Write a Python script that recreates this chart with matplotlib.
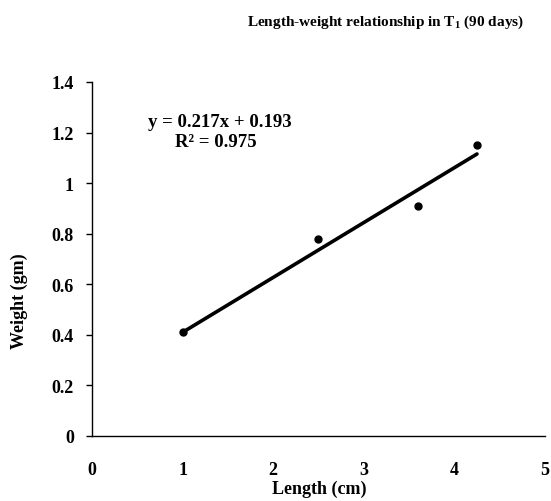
import numpy as np
import matplotlib.pyplot as plt

plt.rcParams["font.family"] = "Liberation Serif"
plt.rcParams["font.weight"] = "bold"
plt.rcParams["mathtext.fontset"] = "custom"
plt.rcParams["mathtext.rm"] = "Liberation Serif:bold"
plt.rcParams["mathtext.default"] = "rm"

# length (cm) and weight (gm) samples
length = [1.0, 2.5, 3.6, 4.25]
weight = [0.41, 0.78, 0.91, 1.15]

# linear trend from the fitted equation
slope = 0.217
intercept = 0.193
r2 = 0.975

xticks = [0, 1, 2, 3, 4, 5]
yticks = [0, 0.2, 0.4, 0.6, 0.8, 1.0, 1.2, 1.4]
ytick_labels = ["0", "0.2", "0.4", "0.6", "0.8", "1", "1.2", "1.4"]

fig = plt.figure(figsize=(5.51, 5.02), dpi=100)
ax = fig.add_axes([0.167, 0.1295, 0.822, 0.7052])

xfit = np.array([min(length), max(length)])
ax.plot(xfit, slope * xfit + intercept, color="black", lw=2.6, solid_capstyle="round")
ax.plot(length, weight, "o", color="black", ms=5)

ax.set_xlim(0, 5)
ax.set_ylim(0, 1.4)
ax.set_xticks(xticks)
ax.set_yticks(yticks)
ax.set_yticklabels(ytick_labels)
ax.tick_params(axis="x", length=0, pad=18, labelsize=13)
ax.tick_params(axis="y", length=4, width=1, pad=9, labelsize=13)

for side in ("top", "right"):
    ax.spines[side].set_visible(False)
for side in ("left", "bottom"):
    ax.spines[side].set_linewidth(1.0)

ax.text(1.41, 1.245, f"y = {slope}x + {intercept}", ha="center", va="center", fontsize=13.5)
ax.text(1.37, 1.166, f"R\u00b2 = {r2}", ha="center", va="center", fontsize=13.5)

fig.text(0.70, 0.955, "Length-weight relationship in T$_1$ (90 days)",
         ha="center", va="center", fontsize=11)
fig.text(0.579, 0.026, "Length (cm)", ha="center", va="center", fontsize=13)
fig.text(0.036, 0.40, "Weight (gm)", ha="center", va="center", rotation=90, fontsize=13)

fig.savefig("out.png", dpi=100)
